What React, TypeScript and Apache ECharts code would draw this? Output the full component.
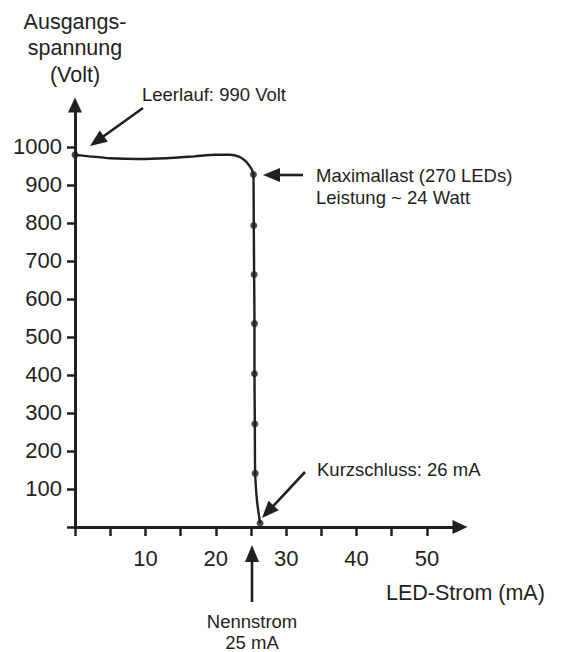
import React, { useEffect, useRef } from "react";
import * as echarts from "echarts";

// ---- data ----
const xTickValues = [0, 5, 10, 15, 20, 25, 30, 35, 40, 45, 50];
const xLabelValues = [10, 20, 30, 40, 50];
const yTickValues = [0, 100, 200, 300, 400, 500, 600, 700, 800, 900, 1000];
const yLabelValues = [100, 200, 300, 400, 500, 600, 700, 800, 900, 1000];

// characteristic curve: current (mA) and voltage (V)
const curveCurrent = [0, 2, 5, 9, 13, 17, 20, 22, 23.3, 24.2, 24.8, 25.2, 25.35, 25.4, 25.45, 25.5, 25.5, 25.55, 25.6, 25.85, 26.1, 26.3];
const curveVoltage = [979, 975, 970, 968, 970, 975, 979, 979, 974, 963, 950, 937, 927, 793, 664, 535, 403, 271, 141, 70, 35, 10];

// measured points (dots)
const dotCurrent = [0, 25.35, 25.4, 25.45, 25.5, 25.5, 25.55, 25.6, 26.3];
const dotVoltage = [979, 927, 793, 664, 535, 403, 271, 141, 10];

const INK = "#231f20";
const FONT = "'Liberation Sans', Arial, Helvetica, sans-serif";

function arrow(x1: number, y1: number, x2: number, y2: number) {
  const head = 17;
  const width = 14;
  const dx = x2 - x1;
  const dy = y2 - y1;
  const len = Math.hypot(dx, dy);
  const ux = dx / len;
  const uy = dy / len;
  const bx = x2 - ux * head;
  const by = y2 - uy * head;
  const px = -uy;
  const py = ux;
  return [
    {
      type: "line",
      shape: { x1, y1, x2: bx + ux * 2, y2: by + uy * 2 },
      style: { stroke: INK, lineWidth: 2.6 },
      silent: true,
    },
    {
      type: "polygon",
      shape: {
        points: [
          [x2, y2],
          [bx + (px * width) / 2, by + (py * width) / 2],
          [bx - (px * width) / 2, by - (py * width) / 2],
        ],
      },
      style: { fill: INK },
      silent: true,
    },
  ];
}

function label(text: string, x: number, y: number, align: string, size: number, lineHeight?: number) {
  return {
    type: "text",
    x,
    y,
    silent: true,
    style: {
      text,
      fill: INK,
      fontSize: size,
      fontFamily: FONT,
      lineHeight: lineHeight || size * 1.2,
      align,
      textAlign: align,
      verticalAlign: "middle",
      textVerticalAlign: "middle",
    },
  };
}

export default function App() {
  const ref = useRef<HTMLDivElement>(null);
  useEffect(() => {
    if (!ref.current) return;
    const chart = echarts.init(ref.current, undefined, { renderer: "svg" });
    const curve = curveCurrent.map((c, i) => [c, curveVoltage[i]]);
    const dots = dotCurrent.map((c, i) => [c, dotVoltage[i]]);
    chart.setOption({
      animation: false,
      backgroundColor: "#ffffff",
      grid: { left: 75, right: 105, top: 105, bottom: 125, containLabel: false },
      xAxis: {
        type: "value",
        min: 0,
        max: 54.7,
        interval: 5,
        axisLine: {
          show: true,
          lineStyle: { color: INK, width: 3 },
          symbol: ["none", "triangle"],
          symbolSize: [14, 15],
        },
        axisTick: { show: true, length: 9, lineStyle: { color: INK, width: 2.5 }, customValues: xTickValues },
        axisLabel: {
          color: INK,
          fontSize: 22,
          fontFamily: FONT,
          margin: 31,
          verticalAlign: "middle",
          customValues: xLabelValues,
          formatter: (v: number) => String(v),
        },
        splitLine: { show: false },
      },
      yAxis: {
        type: "value",
        min: 0,
        max: 1110,
        interval: 100,
        axisLine: {
          show: true,
          lineStyle: { color: INK, width: 3 },
          symbol: ["none", "triangle"],
          symbolSize: [14, 15],
        },
        axisTick: { show: true, length: 8, lineStyle: { color: INK, width: 2.5 }, customValues: yTickValues },
        axisLabel: {
          color: INK,
          fontSize: 22,
          fontFamily: FONT,
          margin: 13,
          customValues: yLabelValues,
          formatter: (v: number) => String(v),
        },
        splitLine: { show: false },
      },
      series: [
        {
          type: "line",
          data: curve,
          smooth: 0.25,
          showSymbol: false,
          lineStyle: { color: INK, width: 2.4 },
          clip: false,
          z: 3,
        },
        {
          type: "scatter",
          data: dots,
          symbol: "circle",
          symbolSize: 7,
          itemStyle: { color: INK },
          clip: false,
          z: 4,
        },
      ],
      graphic: [
        label("Ausgangs-\nspannung\n(Volt)", 75, 48, "center", 21.5, 26.5),
        label("Leerlauf: 990 Volt", 142, 94, "left", 18.5),
        label("Maximallast (270 LEDs)\nLeistung ~ 24 Watt", 316, 186.5, "left", 18.5, 22),
        label("Kurzschluss: 26 mA", 317, 469, "left", 18.5),
        label("LED-Strom (mA)", 386, 593, "left", 21.5),
        label("Nennstrom\n25 mA", 252, 632, "center", 18.5, 21),
        ...arrow(143, 108, 90, 146),
        ...arrow(303, 175, 263, 175),
        ...arrow(305, 472, 262, 518),
        ...arrow(252, 602, 252, 545),
      ],
    });
    return () => chart.dispose();
  }, []);
  return (
    <div
      ref={ref}
      style={{ position: "fixed", left: 0, top: 0, width: 565, height: 652, background: "#fff" }}
    />
  );
}
